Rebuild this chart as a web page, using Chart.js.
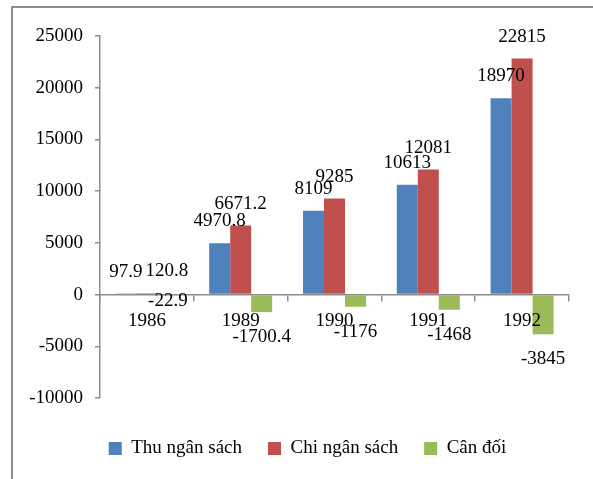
<!DOCTYPE html>
<html>
<head>
<meta charset="utf-8">
<script src="https://cdn.jsdelivr.net/npm/chart.js@4"></script>
<style>
body { margin: 0; background: #fff; overflow: hidden; }
#frame { position: absolute; left: 11px; top: 6px; width: 640px; height: 540px; border-left: 2px solid #8c8c8c; border-top: 2px solid #8c8c8c; }
canvas { position: absolute; left: 0; top: 0; }
</style>
</head>
<body>
<div id="frame"></div>
<canvas id="myChart" width="593" height="479"></canvas>
<script>
const years = ['1986', '1989', '1990', '1991', '1992'];
const thu = [97.9, 4970.8, 8109, 10613, 18970];
const chi = [120.8, 6671.2, 9285, 12081, 22815];
const canDoi = [-22.9, -1700.4, -1176, -1468, -3845];

const FONT = '"Liberation Serif", "Times New Roman", serif';
const AXIS = '#8c8c8c';

// small hand nudges for labels that were moved in the original
const nudge = { '1-0': [20, 0], '2-0': [0, -19] };

const valueLabels = {
    id: 'valueLabels',
    afterLayout(chart) {
        // legend sits a bit right of and lower than where Chart.js puts it
        const l = chart.legend;
        l.left += 10; l.right += 10;
        l.top += 15; l.bottom += 15;
    },
    afterDatasetsDraw(chart) {
        const ctx = chart.ctx;
        ctx.save();
        ctx.font = '19px ' + FONT;
        ctx.fillStyle = '#000';
        ctx.textAlign = 'center';
        ctx.textBaseline = 'middle';
        chart.data.datasets.forEach((ds, di) => {
            chart.getDatasetMeta(di).data.forEach((bar, i) => {
                const v = ds.data[i];
                const n = nudge[di + '-' + i] || [0, 0];
                const y = v >= 0 ? bar.y - 22 : bar.y + 25;
                ctx.fillText(String(v), bar.x + n[0], y + n[1]);
            });
        });
        ctx.restore();
    }
};

const data = {
    labels: years,
    datasets: [{
        label: 'Thu ngân sách',
        backgroundColor: '#4F81BD',
        data: thu,
    },
    {
        label: 'Chi ngân sách',
        backgroundColor: '#C0504D',
        data: chi,
    },
    {
        label: 'Cân đối',
        backgroundColor: '#9BBB59',
        data: canDoi,
    }]
};

const config = {
    type: 'bar',
    data: data,
    plugins: [valueLabels],
    options: {
        responsive: false,
        animation: false,
        categoryPercentage: 0.672,
        barPercentage: 1,
        layout: { padding: { left: 26, right: 24, top: 36, bottom: 26 } },
        plugins: {
            tooltip: { enabled: false },
            legend: {
                position: 'bottom',
                labels: {
                    font: { family: FONT, size: 19 },
                    color: '#000',
                    boxWidth: 13,
                    boxHeight: 13,
                    padding: 26
                }
            }
        },
        scales: {
            x: {
                position: { y: 0 },
                grid: { drawOnChartArea: false, drawTicks: true, tickLength: 6, color: AXIS, lineWidth: 1.5 },
                border: { color: AXIS, width: 1.5 },
                ticks: { z: 1, font: { family: FONT, size: 19 }, color: '#000', padding: 9 }
            },
            y: {
                min: -10000,
                max: 25000,
                afterFit(scale) { scale.width = 74; },
                grid: { drawOnChartArea: false, drawTicks: true, tickLength: 5, color: AXIS, lineWidth: 1.5 },
                border: { color: AXIS, width: 1.5 },
                ticks: {
                    stepSize: 5000,
                    font: { family: FONT, size: 19 },
                    color: '#000',
                    padding: 12,
                    callback: (v) => String(v)
                }
            }
        }
    }
};

const myChart = new Chart(document.getElementById('myChart'), config);
</script>
</body>
</html>
